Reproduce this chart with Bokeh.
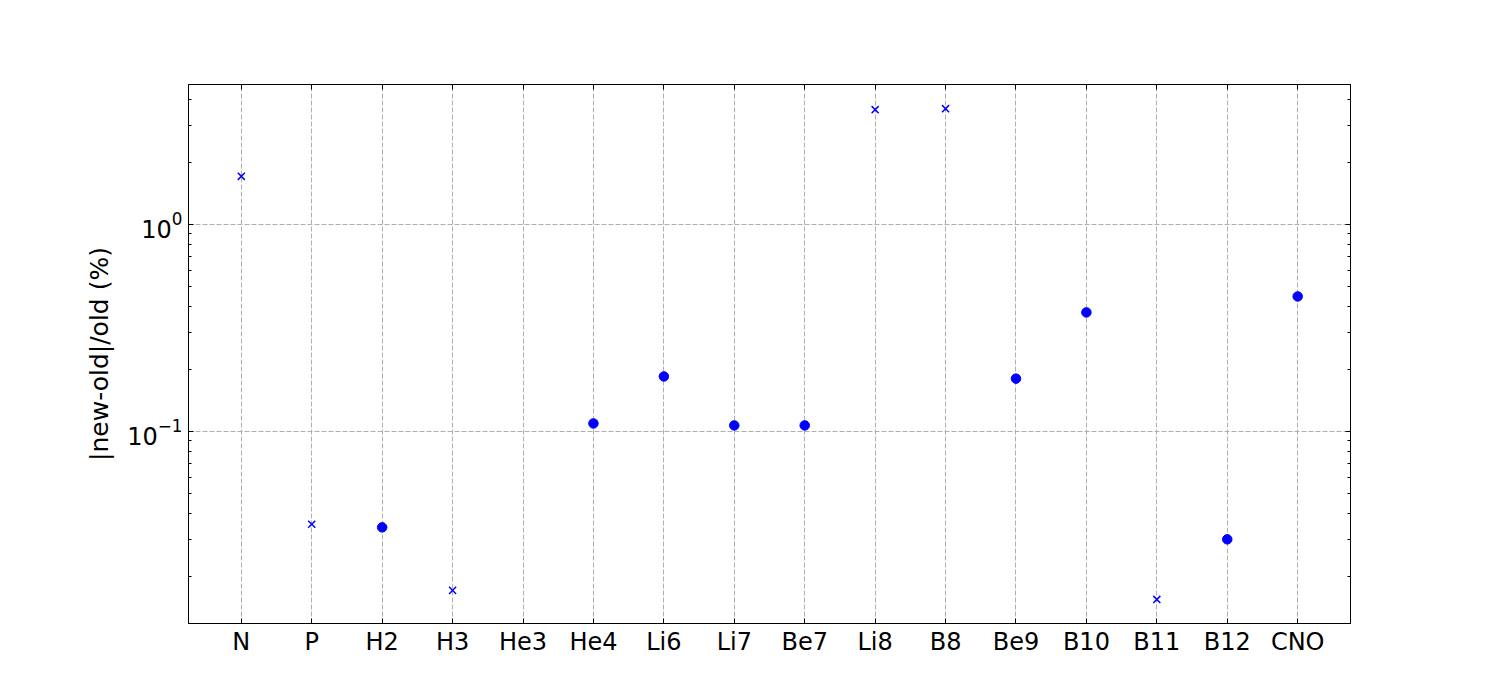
from bokeh.plotting import figure
from bokeh.models import (FactorRange, Range1d, LogTicker, LogAxis, CategoricalAxis,
                          CategoricalTicker, LogTickFormatter)
from bokeh.embed import file_html
from bokeh.resources import INLINE

categories = ["N", "P", "H2", "H3", "He3", "He4", "Li6", "Li7", "Be7",
              "Li8", "B8", "Be9", "B10", "B11", "B12", "CNO"]

# series drawn as filled circles
circle_cats = ["H2", "He4", "Li6", "Li7", "Be7", "Be9", "B10", "B12", "CNO"]
circle_vals = [0.0344, 0.1093, 0.1844, 0.1069, 0.1069, 0.180, 0.376, 0.0301, 0.449]

# series drawn as x markers
x_cats = ["N", "P", "H3", "Li8", "B8", "B11"]
x_vals = [1.71, 0.0356, 0.01706, 3.59, 3.63, 0.01543]

y_min, y_max = 0.0118, 4.75

FONT = "DejaVu Sans"

p = figure(width=1484, height=684, output_backend="svg", toolbar_location=None,
           x_range=FactorRange(*categories, range_padding=0.25, range_padding_units="absolute"),
           y_range=Range1d(y_min, y_max), y_axis_type="log",
           min_border_left=188, min_border_right=134, min_border_top=84,
           min_border_bottom=61)
p.outline_line_color = "black"
p.outline_line_width = 1

p.scatter(circle_cats, circle_vals, marker="circle", size=9.5, color="blue")
p.scatter(x_cats, x_vals, marker="x", size=10, line_color="blue", line_width=1.5)

# grids
for g in (p.xgrid, p.ygrid):
    g.grid_line_color = "#b0b0b0"
    g.grid_line_dash = "5 2"
    g.grid_line_width = 1

yt = LogTicker(num_minor_ticks=10)
p.yaxis.ticker = yt
p.yaxis.formatter = LogTickFormatter()
p.yaxis.axis_label = "|new-old|/old (%)"

def style_axis(ax, labels=True):
    ax.axis_line_color = "black"
    ax.major_tick_in = 5
    ax.major_tick_out = 0
    ax.minor_tick_in = 3
    ax.minor_tick_out = 0
    ax.major_tick_line_color = "black"
    ax.minor_tick_line_color = "black"
    ax.major_label_text_font = FONT
    ax.major_label_text_font_size = "24px" if labels else "0px"
    ax.major_label_text_color = "black"
    ax.major_label_standoff = 6
    ax.axis_label_text_font = FONT
    ax.axis_label_text_font_size = "25px"
    ax.axis_label_text_font_style = "normal"
    ax.axis_label_text_color = "black"
    ax.axis_label_standoff = 10

for ax in p.xaxis:
    style_axis(ax)
    ax.major_label_standoff = 4
for ax in p.yaxis:
    style_axis(ax)

top = CategoricalAxis(ticker=CategoricalTicker())
style_axis(top, labels=False)
top.major_label_text_color = None
p.add_layout(top, "above")

right = LogAxis(ticker=LogTicker(num_minor_ticks=10))
style_axis(right, labels=False)
right.major_label_text_color = None
p.add_layout(right, "right")

open("out.html", "w").write(file_html(p, INLINE))
